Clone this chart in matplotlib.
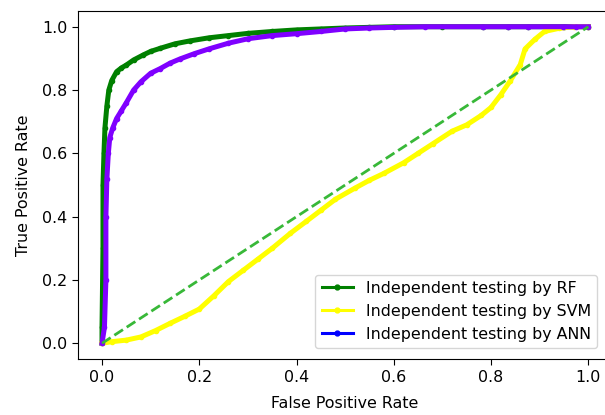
import matplotlib
matplotlib.use("Agg")
import matplotlib.pyplot as plt
from matplotlib.lines import Line2D

# Random Forest ROC
rf_fpr = [0.0, 0.0, 0.002, 0.002, 0.004, 0.006, 0.010, 0.014, 0.020, 0.030, 0.040, 0.050,
          0.065, 0.085, 0.100, 0.120, 0.150, 0.180, 0.220, 0.260, 0.300, 0.350, 0.400,
          0.450, 0.500, 0.550, 0.600, 0.700, 0.783, 0.835, 0.876, 0.950, 1.0]
rf_tpr = [0.0, 0.05, 0.30, 0.50, 0.60, 0.68, 0.75, 0.80, 0.83, 0.858, 0.870, 0.879,
          0.895, 0.911, 0.922, 0.932, 0.946, 0.955, 0.965, 0.972, 0.979, 0.985, 0.990,
          0.993, 0.996, 0.998, 1.0, 1.0, 1.0, 1.0, 1.0, 1.0, 1.0]

# SVM ROC
svm_fpr = [0.0, 0.02, 0.05, 0.08, 0.11, 0.14, 0.17, 0.20, 0.23, 0.26, 0.29, 0.32, 0.35,
           0.387, 0.42, 0.45, 0.48, 0.52, 0.55, 0.58, 0.62, 0.65, 0.68, 0.72, 0.75, 0.78,
           0.80, 0.82, 0.84, 0.86, 0.87, 0.89, 0.91, 0.94, 0.97, 1.0]
svm_tpr = [0.0, 0.005, 0.01, 0.02, 0.04, 0.063, 0.085, 0.108, 0.15, 0.195, 0.23, 0.265,
           0.30, 0.347, 0.385, 0.42, 0.455, 0.49, 0.515, 0.537, 0.57, 0.60, 0.63, 0.67,
           0.69, 0.72, 0.745, 0.785, 0.83, 0.88, 0.93, 0.96, 0.985, 0.995, 1.0, 1.0]

# ANN ROC
ann_fpr = [0.0, 0.005, 0.008, 0.008, 0.010, 0.013, 0.016, 0.022, 0.030, 0.040, 0.050,
           0.065, 0.080, 0.100, 0.120, 0.140, 0.160, 0.190, 0.220, 0.260, 0.300, 0.350,
           0.400, 0.450, 0.500, 0.550, 0.600, 0.664, 0.783, 0.835, 0.876, 0.948, 0.975,
           1.0]
ann_tpr = [0.0, 0.05, 0.20, 0.40, 0.52, 0.60, 0.65, 0.68, 0.71, 0.735, 0.76,
           0.80, 0.826, 0.853, 0.868, 0.885, 0.898, 0.915, 0.930, 0.948, 0.962, 0.972,
           0.978, 0.985, 0.993, 0.996, 0.998, 1.0, 1.0, 1.0, 1.0, 1.0, 1.0,
           1.0]

labels = ["Independent testing by RF", "Independent testing by SVM",
          "Independent testing by ANN"]

fs = 11.4
plt.rcParams["font.size"] = fs
plt.rcParams["xtick.major.size"] = 4
plt.rcParams["ytick.major.size"] = 4

fig = plt.figure(figsize=(6.05, 4.15), dpi=100)
ax = fig.add_axes([77.7 / 605, (415 - 359.1) / 415, (612.6 - 77.7) / 605, (359.1 - 10.9) / 415])

lw = 3.6
ms = 6
ax.plot(rf_fpr, rf_tpr, color="green", marker=".", lw=lw, ms=ms, zorder=2)
ax.plot(svm_fpr, svm_tpr, color="yellow", marker=".", lw=lw, ms=ms, zorder=2)
ax.plot(ann_fpr, ann_tpr, color="#7f00ff", marker=".", lw=lw, ms=ms, zorder=3)
ax.plot([0, 1], [0, 1], color="#38b838", ls="--", lw=2, zorder=4)

ax.set_xlim(-0.05, 1.05)
ax.set_ylim(-0.05, 1.05)
ax.set_xticks([0.0, 0.2, 0.4, 0.6, 0.8, 1.0])
ax.set_yticks([0.0, 0.2, 0.4, 0.6, 0.8, 1.0])
ax.tick_params(labelsize=fs)
ax.set_xlabel("False Positive Rate", fontsize=fs, labelpad=8)
ax.set_ylabel("True Positive Rate", fontsize=fs, labelpad=8)

handles = [
    Line2D([], [], color="green", marker=".", lw=2.2, ms=7),
    Line2D([], [], color="yellow", marker=".", lw=2.2, ms=7),
    Line2D([], [], color="blue", marker=".", lw=2.2, ms=7),
]
ax.legend(handles, labels, loc="lower right", bbox_to_anchor=(0.9805, 0.018),
          fontsize=fs, borderaxespad=0.3)

fig.savefig("out.png", dpi=100)
